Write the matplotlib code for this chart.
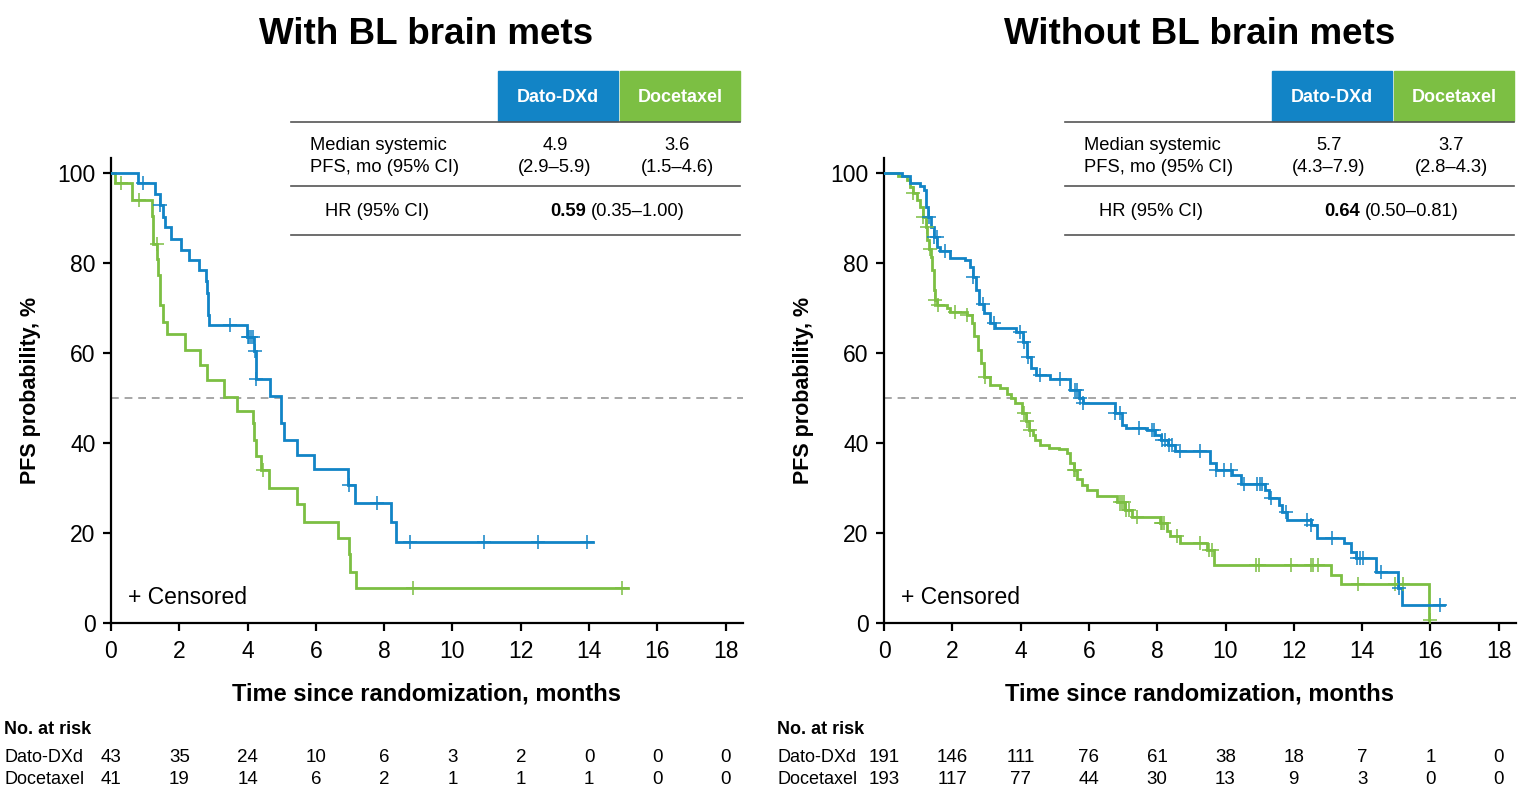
import numpy as np
import matplotlib
matplotlib.use("Agg")
import matplotlib.pyplot as plt
from matplotlib.transforms import blended_transform_factory

plt.rcParams['font.family'] = ['Liberation Sans', 'DejaVu Sans']

BLUE = '#1284C6'
GREEN = '#7CBF43'

# ---------------- data: With BL brain mets ----------------
L_dato_t = [0, 0.78, 1.29, 1.43, 1.53, 1.58, 1.76, 2.05, 2.29, 2.58, 2.77, 2.80, 2.85, 2.88,
            3.97, 4.20, 4.24, 4.65, 4.97, 4.99, 5.07, 5.45, 5.94, 6.93, 7.15, 8.19, 8.36]
L_dato_s = [100, 97.7, 95.3, 92.9, 90.3, 88.1, 85.3, 83.0, 80.7, 78.4, 75.9, 73.3, 68.4, 66.2,
            63.6, 60.5, 54.2, 50.5, 47.5, 44.4, 40.7, 37.3, 34.2, 30.7, 26.7, 22.5, 17.9]
L_dato_end = 14.1
L_dato_cens = [0.94, 1.44, 3.48, 4.00, 4.05, 4.10, 4.16, 4.22, 4.26, 6.97, 7.80, 8.76, 10.93, 12.5, 13.94]

L_doce_t = [0, 0.12, 0.62, 1.19, 1.24, 1.36, 1.39, 1.43, 1.51, 1.63, 2.18, 2.60, 2.80, 3.32, 3.68,
            4.15, 4.18, 4.24, 4.38, 4.63, 5.46, 5.65, 6.65, 6.96, 7.00, 7.16]
L_doce_s = [100, 97.7, 93.9, 90.5, 84.2, 81.0, 77.3, 70.7, 67.0, 64.2, 60.7, 57.3, 54.0, 50.2, 47.2,
            44.4, 40.7, 37.1, 34.0, 30.1, 26.4, 22.5, 19.0, 15.3, 11.4, 7.7]
L_doce_end = 15.14
L_doce_cens = [0.28, 0.83, 1.34, 4.46, 8.83, 14.97]

# ---------------- data: Without BL brain mets ----------------
R_dato_t = [0, 0.52, 0.76, 1.06, 1.16, 1.23, 1.30, 1.38, 1.45, 1.55, 1.64, 1.94, 2.38, 2.52, 2.60,
            2.69, 2.79, 2.93, 3.11, 3.25, 3.87, 4.08, 4.18, 4.31, 4.46, 4.86, 5.45, 5.70, 5.84,
            6.77, 6.96, 7.10, 7.69, 7.93, 8.10, 8.33, 8.53, 9.56, 9.71, 10.20, 10.45, 11.17, 11.27,
            11.56, 11.65, 11.80, 12.49, 12.69, 13.47, 13.67, 13.82, 14.41, 15.04, 15.16]
R_dato_s = [100, 99.3, 97.7, 97.1, 96.2, 92.5, 90.3, 88.1, 85.8, 83.6, 82.7, 81.2, 80.7, 79.2, 77.0,
            74.0, 71.0, 68.8, 66.6, 65.5, 64.7, 62.5, 59.2, 56.6, 55.1, 54.2, 51.8, 49.9, 48.9,
            46.6, 44.0, 43.3, 42.8, 41.8, 40.7, 39.6, 38.3, 35.5, 34.0, 32.9, 31.0, 29.6, 27.7,
            26.2, 24.7, 23.0, 21.8, 18.8, 17.7, 15.8, 14.4, 11.4, 7.7, 4.0]
R_dato_end = 16.4
R_dato_cens = [1.33, 1.45, 1.54, 1.79, 2.62, 2.91, 3.21, 3.99, 4.09, 4.23, 4.57, 5.16, 5.60, 5.65,
               5.75, 5.84, 6.77, 6.90, 7.46, 7.85, 7.90, 8.14, 8.24, 8.34, 8.44, 8.68, 9.25, 9.73,
               9.95, 10.15, 10.54, 10.93, 11.02, 11.07, 11.32, 11.76, 12.40, 12.51, 13.13, 13.86,
               13.95, 14.04, 14.55, 15.08, 16.28]

R_doce_t = [0, 0.42, 0.66, 0.76, 0.86, 0.96, 1.06, 1.15, 1.23, 1.27, 1.32, 1.37, 1.40, 1.45, 1.50,
            1.55, 1.84, 1.94, 2.43, 2.57, 2.65, 2.74, 2.83, 2.93, 3.11, 3.40, 3.60, 3.72, 3.85,
            4.03, 4.15, 4.26, 4.35, 4.43, 4.57, 4.82, 5.11, 5.36, 5.45, 5.55, 5.65, 5.79, 5.94,
            6.23, 6.82, 7.07, 7.26, 8.09, 8.28, 8.38, 8.68, 9.46, 9.66, 13.08, 13.37, 15.96]
R_doce_s = [100, 99.3, 98.4, 97.0, 95.5, 94.0, 92.5, 90.3, 88.1, 85.1, 83.2, 81.4, 78.4, 74.0, 71.8,
            70.7, 69.9, 69.2, 68.4, 66.6, 63.7, 60.7, 57.7, 54.7, 52.9, 52.2, 51.0, 49.9, 48.8,
            46.6, 44.8, 42.9, 41.8, 40.7, 39.6, 39.0, 38.6, 37.7, 35.5, 34.0, 32.1, 30.7, 29.6,
            28.2, 27.0, 25.1, 23.6, 22.2, 20.4, 19.3, 17.7, 16.2, 13.0, 10.7, 8.7, 0.6]
R_doce_end = 15.97
R_doce_cens = [0.86, 1.15, 1.25, 1.35, 1.50, 1.59, 2.08, 2.44, 2.96, 4.09, 4.18, 4.28, 5.56, 5.60,
               6.92, 6.97, 7.02, 7.08, 7.17, 7.41, 8.10, 8.14, 8.19, 8.58, 9.25, 9.51, 9.61, 10.88,
               10.98, 11.93, 12.51, 12.56, 12.72, 13.88, 14.96, 15.21, 15.98]

risk_times = [0, 2, 4, 6, 8, 10, 12, 14, 16, 18]
L_risk_dato = [43, 35, 24, 10, 6, 3, 2, 0, 0, 0]
L_risk_doce = [41, 19, 14, 6, 2, 1, 1, 1, 0, 0]
R_risk_dato = [191, 146, 111, 76, 61, 38, 18, 7, 1, 0]
R_risk_doce = [193, 117, 77, 44, 30, 13, 9, 3, 0, 0]

titles = ["With BL brain mets", "Without BL brain mets"]
med_dato = [("4.9", "(2.9–5.9)"), ("5.7", "(4.3–7.9)")]
med_doce = [("3.6", "(1.5–4.6)"), ("3.7", "(2.8–4.3)")]
hr_val = ["0.59", "0.64"]
hr_ci = ["(0.35–1.00)", "(0.50–0.81)"]

# ---------------- figure ----------------
W, H = 1518, 793
fig = plt.figure(figsize=(W / 100, H / 100), dpi=100)


def fx(px):
    return px / W


def fy(py):
    return 1 - py / H


def level(ts, ss, t):
    i = np.searchsorted(ts, t, side='right') - 1
    return ss[max(i, 0)]


def km(ax, ts, ss, end, cens, color):
    ts = np.asarray(ts, float)
    ss = np.asarray(ss, float)
    x = np.append(ts, end)
    y = np.append(ss, ss[-1])
    ax.step(x, y, where='post', color=color, lw=2.0, zorder=3, solid_joinstyle='miter')
    cy = [level(ts, ss, c) for c in cens]
    ax.plot(cens, cy, ls='none', marker='+', ms=10, mew=1.1, color=color, zorder=4)


panels = [
    dict(x0=111, dato=(L_dato_t, L_dato_s, L_dato_end, L_dato_cens),
         doce=(L_doce_t, L_doce_s, L_doce_end, L_doce_cens),
         rd=L_risk_dato, rc=L_risk_doce, title_x=426),
    dict(x0=884, dato=(R_dato_t, R_dato_s, R_dato_end, R_dato_cens),
         doce=(R_doce_t, R_doce_s, R_doce_end, R_doce_cens),
         rd=R_risk_dato, rc=R_risk_doce, title_x=1200),
]

px_per_mo = 34.15
y_top_px, y_bot_px = 173, 623
px_per_pct = (y_bot_px - y_top_px) / 100
ymax = 103.3
xmax = 18.5

for k, p in enumerate(panels):
    x0 = p['x0']
    left = fx(x0)
    width = xmax * px_per_mo / W
    bottom = fy(y_bot_px)
    height = ymax * px_per_pct / H
    ax = fig.add_axes([left, bottom, width, height])
    ax.set_xlim(0, xmax)
    ax.set_ylim(0, ymax)
    for s in ['top', 'right']:
        ax.spines[s].set_visible(False)
    for s in ['left', 'bottom']:
        ax.spines[s].set_linewidth(1.6)
    ax.set_xticks(risk_times)
    ax.set_yticks([0, 20, 40, 60, 80, 100])
    ax.tick_params(axis='both', direction='out', length=6, width=1.6, labelsize=16.5, pad=5)
    ax.tick_params(axis='x', pad=6)
    ax.axhline(50, color='#A6A6A6', lw=1.4, ls=(0, (4, 3)), zorder=1)

    km(ax, *p['doce'], GREEN)
    km(ax, *p['dato'], BLUE)

    ax.set_xlabel("Time since randomization, months", fontsize=17, fontweight='bold', labelpad=14)
    ax.set_ylabel("PFS probability, %", fontsize=15.5, fontweight='bold', labelpad=12)

    ax.text(0.5, 5.6, "+ Censored", fontsize=16.5, ha='left', va='center')

    # title
    fig.text(fx(p['title_x']), fy(35), titles[k], fontsize=26.5, fontweight='bold',
             ha='center', va='center')

    # summary table
    off = 0 if k == 0 else 774
    fig.patches.append(plt.Rectangle((fx(498 + off), fy(121)), fx(120), 50 / H,
                                     transform=fig.transFigure, color=BLUE, zorder=0))
    fig.patches.append(plt.Rectangle((fx(620 + off), fy(121)), fx(120), 50 / H,
                                     transform=fig.transFigure, color=GREEN, zorder=0))
    fig.text(fx(558 + off), fy(98), "Dato-DXd", color='white', fontsize=13, fontweight='bold',
             ha='center', va='center')
    fig.text(fx(680 + off), fy(98), "Docetaxel", color='white', fontsize=13, fontweight='bold',
             ha='center', va='center')
    for ly in [122, 186, 235]:
        fig.add_artist(plt.Line2D([fx(291 + off), fx(740 + off)], [fy(ly), fy(ly)],
                                  color='#555555', lw=1.2, transform=fig.transFigure))
    fs = 13.2
    fig.text(fx(310 + off), fy(145), "Median systemic", fontsize=fs, ha='left', va='center')
    fig.text(fx(310 + off), fy(167), "PFS, mo (95% CI)", fontsize=fs, ha='left', va='center')
    fig.text(fx(555 + off), fy(145), med_dato[k][0], fontsize=fs, ha='center', va='center')
    fig.text(fx(555 + off), fy(167), med_dato[k][1], fontsize=fs, ha='center', va='center')
    fig.text(fx(677 + off), fy(145), med_doce[k][0], fontsize=fs, ha='center', va='center')
    fig.text(fx(677 + off), fy(167), med_doce[k][1], fontsize=fs, ha='center', va='center')
    fig.text(fx(325 + off), fy(212), "HR (95% CI)", fontsize=fs, ha='left', va='center')
    fig.text(fx(586 + off), fy(212), hr_val[k], fontsize=fs, fontweight='bold', ha='right', va='center')
    fig.text(fx(591 + off), fy(212), hr_ci[k], fontsize=fs, ha='left', va='center')

    # risk table
    tr = blended_transform_factory(ax.transData, fig.transFigure)
    lx = 4 if k == 0 else 777
    fig.text(fx(lx), fy(729), "No. at risk", fontsize=13, fontweight='bold', ha='left', va='center')
    fig.text(fx(lx), fy(758), "Dato-DXd", fontsize=13, ha='left', va='center')
    fig.text(fx(lx), fy(780), "Docetaxel", fontsize=13, ha='left', va='center')
    for t, a, b in zip(risk_times, p['rd'], p['rc']):
        ax.text(t, fy(758), str(a), transform=tr, fontsize=13.5, ha='center', va='center')
        ax.text(t, fy(780), str(b), transform=tr, fontsize=13.5, ha='center', va='center')

fig.savefig("out.png", dpi=100)
